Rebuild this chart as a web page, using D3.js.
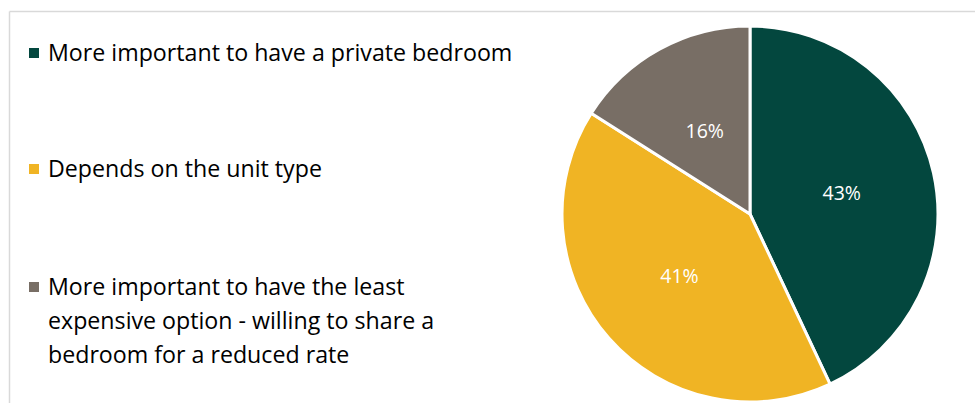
<!DOCTYPE html>
<html>
<head>
<meta charset="utf-8">
<script src="https://cdn.jsdelivr.net/npm/d3@7"></script>
<style>
  body { margin: 0; background: #fff; }
  svg { display: block; }
</style>
</head>
<body>
<div id="chart"></div>
<script>
// Room preference pie
const categories = [
  "More important to have a private bedroom",
  "Depends on the unit type",
  "More important to have the least expensive option - willing to share a bedroom for a reduced rate"
];
const values = [43, 41, 16];
const labels = ["43%", "41%", "16%"];
const legendLines = [
  ["More important to have a private bedroom"],
  ["Depends on the unit type"],
  ["More important to have the least", "expensive option - willing to share a", "bedroom for a reduced rate"]
];
const colors = ["#03473e", "#f0b424", "#786e65"];

const width = 975;
const height = 403;

const svg = d3.select("#chart")
  .append("svg")
  .attr("width", width)
  .attr("height", height);

// chart area border (top and left edges visible)
svg.append("line")
  .attr("x1", 9.5).attr("x2", width)
  .attr("y1", 11.5).attr("y2", 11.5)
  .style("stroke", "#d9d9d9")
  .style("stroke-width", 1.5);
svg.append("line")
  .attr("x1", 9.5).attr("x2", 9.5)
  .attr("y1", 11.5).attr("y2", height)
  .style("stroke", "#d9d9d9")
  .style("stroke-width", 1.5);

const radius = 188;
const cx = 750, cy = 214;

const pie = d3.pie().sort(null).value(d => d);
const arc = d3.arc().innerRadius(0).outerRadius(radius);

const g = svg.append("g").attr("transform", `translate(${cx},${cy})`);

const arcs = pie(values);

g.selectAll("path")
  .data(arcs)
  .enter()
  .append("path")
  .attr("d", arc)
  .style("fill", (d, i) => colors[i])
  .style("stroke", "#fff")
  .style("stroke-width", 3);

g.selectAll("text")
  .data(arcs)
  .enter()
  .append("text")
  .attr("x", d => arc.centroid(d)[0])
  .attr("y", d => arc.centroid(d)[1])
  .attr("dy", "0.35em")
  .attr("text-anchor", "middle")
  .style("font-family", "'Open Sans', 'Noto Sans', sans-serif")
  .style("font-size", "19.5px")
  .style("fill", "#fff")
  .text((d, i) => labels[i]);

// legend
const legendY = [61, 177, 295];
const lineH = 34;

const legend = svg.selectAll(".legend")
  .data(categories)
  .enter()
  .append("g")
  .attr("class", "legend")
  .attr("transform", (d, i) => `translate(29,${legendY[i]})`);

legend.append("rect")
  .attr("x", 0)
  .attr("y", -13)
  .attr("width", 10)
  .attr("height", 10)
  .style("fill", (d, i) => colors[i]);

legend.each(function(d, i) {
  const t = d3.select(this).append("text")
    .attr("x", 19)
    .style("font-family", "'Open Sans', 'Noto Sans', sans-serif")
    .style("font-size", "23.2px")
    .style("fill", "#000");
  legendLines[i].forEach((line, j) => {
    t.append("tspan")
      .attr("x", 19)
      .attr("y", j * lineH)
      .text(line);
  });
});
</script>
</body>
</html>
